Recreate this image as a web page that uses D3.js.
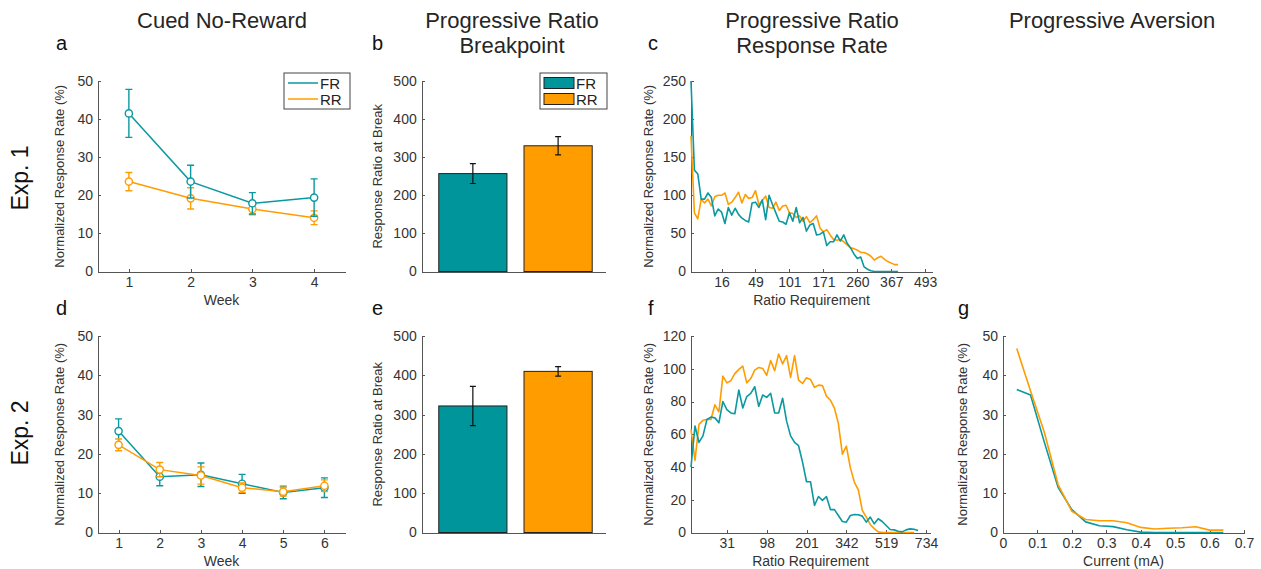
<!DOCTYPE html>
<html>
<head>
<meta charset="utf-8">
<script src="https://cdn.jsdelivr.net/npm/d3@7"></script>
<style>
  body { margin: 0; background: #fff; }
  svg { font-family: "Liberation Sans", Arial, sans-serif; }
  .axis path, .axis line { stroke: #555; stroke-width: 1; shape-rendering: crispEdges; }
  .axis text { font-size: 14px; fill: #333; }
  .ylab { font-size: 13px; fill: #333; }
  .xlab { font-size: 14px; fill: #333; }
  .title { font-size: 22px; fill: #262626; }
  .letter { font-size: 20px; fill: #111; }
</style>
</head>
<body>
<svg id="fig" width="1261" height="569"></svg>
<script>
// ---- data ----
const weeksExp1 = [1, 2, 3, 4];
const cuedFR1 = [41.5, 23.6, 17.9, 19.4];
const cuedFR1Err = [6.3, 4.3, 2.8, 4.9];
const cuedRR1 = [23.6, 19.2, 16.4, 14.1];
const cuedRR1Err = [2.4, 2.8, 1.5, 1.8];

const weeksExp2 = [1, 2, 3, 4, 5, 6];
const cuedFR2 = [25.8, 14.2, 14.7, 12.4, 10.2, 11.4];
const cuedFR2Err = [3.1, 2.3, 3.0, 2.4, 1.6, 2.5];
const cuedRR2 = [22.3, 16.0, 14.5, 11.4, 10.4, 11.9];
const cuedRR2Err = [1.5, 1.8, 2.2, 1.2, 1.1, 1.5];

const groups = ["FR", "RR"];
const breakpoint1 = [257, 330];
const breakpoint1Err = [26, 24];
const breakpoint2 = [322, 410];
const breakpoint2Err = [50, 12];

// response rate per ratio step (step index starts at 1)
const prRate1FR = [250, 133, 128, 95, 95, 103, 97, 73, 82, 78,
  63, 84, 74, 83, 75, 70, 67, 65, 90, 91,
  84, 94, 68, 100, 88, 77, 66, 65, 62, 77,
  66, 84, 64, 71, 53, 61,
  63, 48, 49, 52, 34, 39, 39, 48, 40, 48, 37, 31, 23, 17, 19, 6, 3, 1,
  0, 0, 0, 0, 0, 0, 0, 0];
const prRate1RR = [178, 77, 69, 95, 90, 95, 86, 98, 100, 100,
  103, 88, 91, 97, 104, 90, 101, 96, 97, 106,
  88, 93, 99, 84, 83, 91, 80, 86, 87, 77,
  76, 71, 73, 66, 72, 64,
  68, 73, 57, 52, 55, 48, 42, 41, 42, 39, 35, 31, 30, 28, 25, 25, 23,
  20, 15, 18, 20, 16, 13, 11, 9, 9];
const prTicks1 = [10, 20, 30, 40, 50, 60, 70];
const prTickLabels1 = ["16", "49", "101", "171", "260", "367", "493"];

const prRate2FR = [40, 65, 55, 59, 69, 70.5, 70, 67, 80, 75,
  73, 72.5, 87, 76, 83, 85, 89, 77, 84, 82.5,
  85, 73, 73, 82, 68, 59, 55, 53, 43, 31,
  31, 16.5, 22, 19.6, 22, 14, 14, 10.4, 6.7, 6.3,
  10.4, 11, 10.8, 10, 6.3, 9.4, 5.3, 8.4, 6.7, 4.3,
  1.8, 1.6, 0.8, 0.4, 1.6, 2.2, 2, 1.2];
const prRate2RR = [63, 44, 66, 68.5, 69, 69, 78, 73.7, 95.5, 91.4,
  92.7, 97, 99.6, 101.6, 91.4, 94, 99.2, 100.8, 100.2, 96,
  105, 98.8, 109, 103, 108, 94.7, 108, 93, 91, 94.5,
  93.5, 88.6, 90, 89.8, 83.3, 80.8, 76, 66.5, 47.8, 52.7,
  39.6, 30.8, 26, 13.5, 9.4, 4.9, 2.4, 0.4,
  0, 0, 0, 0, 0, 0, 0, 0, 0];
const prTicks2 = [10, 20, 30, 40, 50, 60];
const prTickLabels2 = ["31", "98", "201", "342", "519", "734"];

const currents = [0.04, 0.08, 0.12, 0.16, 0.20, 0.24, 0.28, 0.32,
  0.36, 0.40, 0.44, 0.48, 0.52, 0.56, 0.60, 0.64];
const aversionFR = [36.4, 35, 23, 11.5, 5.8, 2.7, 1.7, 1.5, 0.7, 0.1, 0, 0, 0, 0, 0, 0];
const aversionRR = [46.8, 36, 25.5, 12.2, 5.4, 3.3, 3.0, 3.0, 2.5, 1.3, 0.9, 1.1, 1.2, 1.45, 0.6, 0.6];

const teal = "#0a99a0";
const tealBar = "#00949b";
const orange = "#ff9d00";

const svg = d3.select("#fig");

// ---- helpers ----
function axes(g, x, y, xTicks, yTicks, xFormat) {
  const xa = d3.axisBottom(x).tickValues(xTicks).tickSize(-3).tickSizeOuter(0).tickPadding(6)
    .tickFormat(xFormat || d3.format("d"));
  g.append("g").attr("class", "axis")
    .attr("transform", `translate(0,${y.range()[0]})`).call(xa);
  const ya = d3.axisLeft(y).tickValues(yTicks).tickSize(-3).tickSizeOuter(0).tickPadding(5)
    .tickFormat(d3.format("d"));
  g.append("g").attr("class", "axis")
    .attr("transform", `translate(${x.range()[0]},0)`).call(ya);
}

function ylabel(text, x, y) {
  svg.append("text").attr("class", "ylab")
    .attr("transform", `translate(${x},${(y.range()[0] + y.range()[1]) / 2}) rotate(-90)`)
    .attr("text-anchor", "middle").text(text);
}

function xlabel(text, x, y) {
  svg.append("text").attr("class", "xlab")
    .attr("x", (x.range()[0] + x.range()[1]) / 2).attr("y", y.range()[0] + 33)
    .attr("text-anchor", "middle").text(text);
}

function errLine(g, x, y, xs, vals, errs, color) {
  const s = g.append("g");
  const pts = xs.map((d, i) => ({ x: d, v: vals[i], e: errs[i] }));
  const caps = 3.5;
  s.selectAll(".eb").data(pts).enter().append("path")
    .attr("fill", "none").attr("stroke", color).attr("stroke-width", 1.4)
    .attr("d", d => {
      const cx = x(d.x), t = y(d.v + d.e), b = y(d.v - d.e);
      return `M${cx},${t}V${b}M${cx - caps},${t}H${cx + caps}M${cx - caps},${b}H${cx + caps}`;
    });
  s.append("path").datum(pts)
    .attr("fill", "none").attr("stroke", color).attr("stroke-width", 1.5)
    .attr("d", d3.line().x(d => x(d.x)).y(d => y(d.v)));
  s.selectAll("circle").data(pts).enter().append("circle")
    .attr("cx", d => x(d.x)).attr("cy", d => y(d.v)).attr("r", 3.6)
    .attr("fill", "#fff").attr("stroke", color).attr("stroke-width", 1.4);
}

function plainLine(g, x, y, xs, vals, color) {
  g.append("path").datum(vals.map((v, i) => [xs[i], v]))
    .attr("fill", "none").attr("stroke", color).attr("stroke-width", 1.6)
    .attr("stroke-linejoin", "round")
    .attr("d", d3.line().x(d => x(d[0])).y(d => y(Math.min(d[1], y.domain()[1]))));
}

function barPanel(x, y, vals, errs) {
  const g = svg.append("g");
  const cols = [tealBar, orange];
  const bw = x(1.4) - x(0.6);
  g.selectAll("rect").data(vals).enter().append("rect")
    .attr("x", (d, i) => x(i + 1) - bw / 2).attr("width", bw)
    .attr("y", d => y(d)).attr("height", d => y(0) - y(d))
    .attr("fill", (d, i) => cols[i]).attr("stroke", "#222").attr("stroke-width", 1);
  g.selectAll(".eb").data(vals).enter().append("path")
    .attr("fill", "none").attr("stroke", "#111").attr("stroke-width", 1.2)
    .attr("d", (d, i) => {
      const cx = x(i + 1), t = y(d + errs[i]), b = y(d - errs[i]);
      return `M${cx},${t}V${b}M${cx - 3},${t}H${cx + 3}M${cx - 3},${b}H${cx + 3}`;
    });
  axes(g, x, y, [], d3.range(0, 501, 100));
  return g;
}

function legendBox(x0, y0, w, h, kind) {
  const g = svg.append("g");
  g.append("rect").attr("x", x0).attr("y", y0).attr("width", w).attr("height", h)
    .attr("fill", "#fff").attr("stroke", "#444").attr("stroke-width", 1);
  const cols = kind === "bar" ? [tealBar, orange] : [teal, orange];
  groups.forEach((name, i) => {
    const cy = y0 + 10 + i * 16;
    if (kind === "bar") {
      g.append("rect").attr("x", x0 + 4).attr("y", cy - 5.5).attr("width", 30).attr("height", 11)
        .attr("fill", cols[i]).attr("stroke", "#222");
    } else {
      g.append("line").attr("x1", x0 + 4).attr("x2", x0 + 34).attr("y1", cy).attr("y2", cy)
        .attr("stroke", cols[i]).attr("stroke-width", 1.5);
    }
    g.append("text").attr("x", x0 + 36).attr("y", cy + 5.5).attr("font-size", 15)
      .attr("fill", "#222").text(name);
  });
}

// ---- panel a ----
{
  const x = d3.scaleLinear().domain([0.5, 4.5]).range([98, 345]);
  const y = d3.scaleLinear().domain([0, 50]).range([271.5, 81]);
  const g = svg.append("g");
  axes(g, x, y, weeksExp1, d3.range(0, 51, 10));
  errLine(g, x, y, weeksExp1, cuedRR1, cuedRR1Err, orange);
  errLine(g, x, y, weeksExp1, cuedFR1, cuedFR1Err, teal);
  ylabel("Normalized Response Rate (%)", 64, y);
  xlabel("Week", x, y);
  legendBox(284, 73, 66, 36, "line");
}
// ---- panel d ----
{
  const x = d3.scaleLinear().domain([0.5, 6.5]).range([98, 345]);
  const y = d3.scaleLinear().domain([0, 50]).range([532.5, 336]);
  const g = svg.append("g");
  axes(g, x, y, weeksExp2, d3.range(0, 51, 10));
  errLine(g, x, y, weeksExp2, cuedFR2, cuedFR2Err, teal);
  errLine(g, x, y, weeksExp2, cuedRR2, cuedRR2Err, orange);
  ylabel("Normalized Response Rate (%)", 64, y);
  xlabel("Week", x, y);
}
// ---- panel b / e ----
{
  const x = d3.scaleLinear().domain([0.4, 2.55]).range([421.7, 605]);
  const y1 = d3.scaleLinear().domain([0, 500]).range([271.5, 81]);
  barPanel(x, y1, breakpoint1, breakpoint1Err);
  ylabel("Response Ratio at Break", 382, y1);
  legendBox(540, 73, 67, 36, "bar");
  const y2 = d3.scaleLinear().domain([0, 500]).range([532.5, 336]);
  barPanel(x, y2, breakpoint2, breakpoint2Err);
  ylabel("Response Ratio at Break", 382, y2);
}
// ---- panel c ----
{
  const x = d3.scaleLinear().domain([1, 72]).range([691, 932]);
  const y = d3.scaleLinear().domain([0, 250]).range([271.5, 81]);
  const g = svg.append("g");
  axes(g, x, y, prTicks1, d3.range(0, 251, 50), (d, i) => prTickLabels1[i]);
  const steps = d3.range(1, prRate1FR.length + 1);
  plainLine(g, x, y, steps, prRate1RR, orange);
  plainLine(g, x, y, steps, prRate1FR, teal);
  ylabel("Normalized Response Rate (%)", 653, y);
  xlabel("Ratio Requirement", x, y);
}
// ---- panel f ----
{
  const x = d3.scaleLinear().domain([1, 61]).range([691, 930]);
  const y = d3.scaleLinear().domain([0, 120]).range([532.5, 336]);
  const g = svg.append("g");
  axes(g, x, y, prTicks2, d3.range(0, 121, 20), (d, i) => prTickLabels2[i]);
  plainLine(g, x, y, d3.range(1, prRate2RR.length + 1), prRate2RR, orange);
  plainLine(g, x, y, d3.range(1, prRate2FR.length + 1), prRate2FR, teal);
  ylabel("Normalized Response Rate (%)", 653, y);
  xlabel("Ratio Requirement", x, y);
}
// ---- panel g ----
{
  const x = d3.scaleLinear().domain([0, 0.7]).range([1003, 1244]);
  const y = d3.scaleLinear().domain([0, 50]).range([532.5, 336]);
  const g = svg.append("g");
  axes(g, x, y, d3.range(0, 0.71, 0.1), d3.range(0, 51, 10), d => d === 0 ? "0" : d3.format(".1f")(d));
  plainLine(g, x, y, currents, aversionFR, teal);
  plainLine(g, x, y, currents, aversionRR, orange);
  ylabel("Normalized Response Rate (%)", 967, y);
  xlabel("Current (mA)", x, y);
}

// ---- titles, letters, row labels ----
const titles = [
  { x: 222, lines: ["Cued No-Reward"] },
  { x: 512, lines: ["Progressive Ratio", "Breakpoint"] },
  { x: 812, lines: ["Progressive Ratio", "Response Rate"] },
  { x: 1112, lines: ["Progressive Aversion"] }
];
titles.forEach(t => t.lines.forEach((l, i) => {
  svg.append("text").attr("class", "title").attr("x", t.x).attr("y", 28 + i * 25)
    .attr("text-anchor", "middle").text(l);
}));
[["a", 56, 50], ["b", 372, 50], ["c", 648, 50], ["d", 56, 315], ["e", 372, 315], ["f", 648, 315], ["g", 958, 315]]
  .forEach(([t, x, y]) => svg.append("text").attr("class", "letter").attr("x", x).attr("y", y).text(t));
[["Exp. 1", 178], ["Exp. 2", 433]].forEach(([t, y]) => {
  svg.append("text").attr("transform", `translate(28,${y}) rotate(-90)`)
    .attr("text-anchor", "middle").attr("font-size", 23).attr("fill", "#111").text(t);
});
</script>
</body>
</html>
